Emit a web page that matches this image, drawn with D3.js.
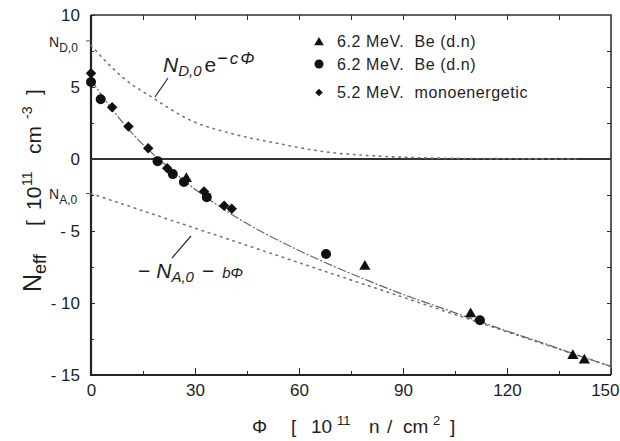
<!DOCTYPE html>
<html>
<head>
<meta charset="utf-8">
<script src="https://cdn.jsdelivr.net/npm/d3@7"></script>
<style>
  body { margin: 0; background: #fff; }
  svg { display: block; }
  text { font-family: "Liberation Sans", Arial, Helvetica, sans-serif; fill: #1e1e1e; }
  .axis path, .axis line { stroke: #2a2a2a; }
  .axis text { font-size: 17px; }
</style>
</head>
<body>
<script>
"use strict";

// measured points, fluence in 1e11 n/cm2, Neff in 1e11 cm-3
var triX = [27.5, 79, 109.5, 139, 142.3];
var triY = [-1.3, -7.4, -10.7, -13.6, -13.9];
var circX = [0, 2.8, 19.2, 23.6, 26.8, 33.4, 67.8, 112.2];
var circY = [5.35, 4.15, -0.15, -1.05, -1.6, -2.65, -6.6, -11.2];
var diaX = [0, 6.1, 10.8, 16.5, 22, 32.6, 38.4, 40.6];
var diaY = [5.95, 3.6, 2.25, 0.75, -0.65, -2.25, -3.25, -3.45];

// curves
var donorX = [0, 5, 10, 17.5, 28.6, 40, 53.5, 66, 83, 100, 120, 140];
var donorY = [7.9, 6.6, 5.5, 4.3, 2.7, 1.8, 1.1, 0.55, 0.2, 0.06, 0.02, 0];
var accX = [0, 150];
var accY = [-2.4, -14.4];
var fitX = [0, 5, 10, 15, 20, 30, 40, 50, 60, 70, 80, 90, 100, 110, 120, 130, 140, 150];
var fitY = [5.5, 3.8, 2.3, 1.0, -0.1, -2.1, -3.75, -5.15, -6.35, -7.45, -8.45, -9.4, -10.25, -11.1, -11.95, -12.75, -13.6, -14.4];

var xTicks = [0, 30, 60, 90, 120, 150];
var yTicks = [10, 5, 0, -5, -10, -15];
var yTickLabels = ["10", "5", "0", "- 5", "- 10", "- 15"];
var legendLabels = ["6.2 MeV.  Be (d.n)", "6.2 MeV.  Be (d.n)", "5.2 MeV.  monoenergetic"];
var ND0 = 8.2, NA0 = -2.4;

var W = 620, H = 441;
var mLeft = 91, mRight = 611, mTop = 15, mBottom = 375;

var svg = d3.select("body").append("svg").attr("width", W).attr("height", H);
svg.append("rect").attr("width", W).attr("height", H).attr("fill", "#fff");

var x = d3.scaleLinear().domain([0, 150]).range([mLeft, mRight]);
var y = d3.scaleLinear().domain([-15, 10]).range([mBottom, mTop]);

// axes, inward ticks
var gx = svg.append("g").attr("class", "axis").attr("transform", "translate(0," + mBottom + ")")
    .call(d3.axisBottom(x).tickValues(xTicks).tickSize(-7).tickPadding(9).tickFormat(d3.format("d")));
gx.selectAll(".tick text").filter(function(d){ return d === 150; })
    .attr("text-anchor", "end").attr("x", 8);
var gxm = svg.append("g").attr("class", "axis").attr("transform", "translate(0," + mBottom + ")")
    .call(d3.axisBottom(x).tickValues([15, 45, 75, 105, 135]).tickSize(-4).tickFormat(""));
var gxt = svg.append("g").attr("class", "axis").attr("transform", "translate(0," + mTop + ")")
    .call(d3.axisTop(x).tickValues([15, 30, 45, 60, 75, 90, 105, 120, 135]).tickSize(-5).tickFormat(""));
var gy = svg.append("g").attr("class", "axis").attr("transform", "translate(" + mLeft + ",0)")
    .call(d3.axisLeft(y).tickValues(yTicks).tickSize(-4).tickPadding(11)
      .tickFormat(function(d, i){ return yTickLabels[i]; }));
var gym = svg.append("g").attr("class", "axis").attr("transform", "translate(" + mLeft + ",0)")
    .call(d3.axisLeft(y).tickValues([7.5, 2.5, -2.5, -7.5, -12.5]).tickSize(-3).tickFormat(""));
var gyr = svg.append("g").attr("class", "axis").attr("transform", "translate(" + mRight + ",0)")
    .call(d3.axisRight(y).tickValues([7.5, 5, 2.5, -2.5, -5, -7.5, -10, -12.5]).tickSize(-4).tickFormat(""));

[gx, gxm, gxt, gy, gym, gyr].forEach(function(g){ g.select(".domain").remove(); });

// frame
svg.append("path")
  .attr("d", "M" + mLeft + "," + mTop + "H" + mRight + "V" + mBottom)
  .attr("fill", "none").attr("stroke", "#333").attr("stroke-width", 1.6);
svg.append("path")
  .attr("d", "M" + mLeft + "," + mTop + "V" + mBottom + "H" + mRight)
  .attr("fill", "none").attr("stroke", "#222").attr("stroke-width", 2.2);

// zero line
svg.append("line")
  .attr("x1", mLeft).attr("x2", mRight).attr("y1", y(0)).attr("y2", y(0))
  .attr("stroke", "#333").attr("stroke-width", 2);

// N_D,0 and N_A,0 markers on the axis
svg.append("line").attr("x1", mLeft - 5).attr("x2", mLeft).attr("y1", y(ND0)).attr("y2", y(ND0))
  .attr("stroke", "#555").attr("stroke-width", 1);
svg.append("line").attr("x1", mLeft - 5).attr("x2", mLeft).attr("y1", y(NA0)).attr("y2", y(NA0))
  .attr("stroke", "#555").attr("stroke-width", 1);

var sideLab = svg.append("text").attr("x", 49).attr("y", y(ND0) + 6).style("font-size", "14px");
sideLab.append("tspan").text("N");
sideLab.append("tspan").attr("dy", 5).style("font-size", "12px").text("D,0");
var sideLab2 = svg.append("text").attr("x", 49).attr("y", y(NA0) + 5).style("font-size", "14px");
sideLab2.append("tspan").text("N");
sideLab2.append("tspan").attr("dy", 5).style("font-size", "12px").text("A,0");

// curves
var line = d3.line().x(function(d){ return x(d[0]); }).y(function(d){ return y(d[1]); });
var curve = d3.line().curve(d3.curveMonotoneX).x(function(d){ return x(d[0]); }).y(function(d){ return y(d[1]); });

svg.append("path").datum(d3.zip(donorX, donorY)).attr("d", curve)
  .attr("fill", "none").attr("stroke", "#777").attr("stroke-width", 1.6)
  .attr("stroke-dasharray", "1.5,5").attr("stroke-linecap", "round");
svg.append("path").datum(d3.zip(accX, accY)).attr("d", line)
  .attr("fill", "none").attr("stroke", "#777").attr("stroke-width", 1.6)
  .attr("stroke-dasharray", "1.5,5").attr("stroke-linecap", "round");
svg.append("path").datum(d3.zip(fitX, fitY)).attr("d", curve)
  .attr("fill", "none").attr("stroke", "#666").attr("stroke-width", 1.2)
  .attr("stroke-dasharray", "9,2,2,2");

// markers
var tri = d3.symbol().type(d3.symbolTriangle).size(55);
var dia = d3.symbol().type(d3.symbolSquare).size(55);

svg.append("g").selectAll("circle").data(d3.zip(circX, circY)).join("circle")
  .attr("cx", function(d){ return x(d[0]); }).attr("cy", function(d){ return y(d[1]); })
  .attr("r", 5).attr("fill", "#111");
svg.append("g").selectAll("path").data(d3.zip(diaX, diaY)).join("path")
  .attr("d", dia).attr("fill", "#111")
  .attr("transform", function(d){ return "translate(" + x(d[0]) + "," + y(d[1]) + ") rotate(45)"; });
svg.append("g").selectAll("path").data(d3.zip(triX, triY)).join("path")
  .attr("d", tri).attr("fill", "#111")
  .attr("transform", function(d){ return "translate(" + x(d[0]) + "," + (y(d[1]) + 1) + ")"; });

// legend
var legY = [41.5, 64, 92.5];
var lg = svg.append("g");
lg.append("path").attr("d", d3.symbol().type(d3.symbolTriangle).size(40))
  .attr("transform", "translate(319," + (legY[0] + 1) + ")").attr("fill", "#111");
lg.append("circle").attr("cx", 319).attr("cy", legY[1]).attr("r", 4.5).attr("fill", "#111");
lg.append("path").attr("d", d3.symbol().type(d3.symbolSquare).size(28))
  .attr("transform", "translate(319," + legY[2] + ") rotate(45)").attr("fill", "#111");
lg.selectAll("text").data(legendLabels).join("text")
  .attr("x", 337).attr("y", function(d, i){ return legY[i] + 5.5; })
  .style("font-size", "16px").style("letter-spacing", "0.6px").style("white-space", "pre")
  .attr("xml:space", "preserve")
  .text(function(d){ return d; });

// annotations
var a1 = svg.append("text").attr("x", 163).attr("y", 72).style("font-size", "21px");
a1.append("tspan").style("font-style", "italic").text("N");
a1.append("tspan").attr("dy", 4).style("font-size", "15px").style("font-style", "italic").text("D,0");
a1.append("tspan").attr("dy", -4).attr("dx", 3).style("font-size", "21px").text("e");
a1.append("tspan").attr("dy", -8).attr("dx", 1).style("font-size", "18px").text("\u2212");
a1.append("tspan").attr("dx", 2).style("font-size", "17px").style("font-style", "italic").text("c");
a1.append("tspan").attr("dx", 2).style("font-size", "17px").style("font-style", "italic").text("\u03A6");
svg.append("line").attr("x1", 168).attr("y1", 78).attr("x2", 155).attr("y2", 97)
  .attr("stroke", "#333").attr("stroke-width", 1.3);

var a2 = svg.append("text").attr("x", 138).attr("y", 278).style("font-size", "21px");
a2.append("tspan").text("\u2212");
a2.append("tspan").attr("dx", 6).style("font-style", "italic").text("N");
a2.append("tspan").attr("dy", 4).style("font-size", "15px").style("font-style", "italic").text("A,0");
a2.append("tspan").attr("dy", -4).attr("dx", 8).text("\u2212");
a2.append("tspan").attr("dx", 8).style("font-size", "15px").style("font-style", "italic").text("b\u03A6");
svg.append("line").attr("x1", 191).attr("y1", 236).attr("x2", 172).attr("y2", 258)
  .attr("stroke", "#333").attr("stroke-width", 1.3);

// axis titles
var yt = svg.append("text").attr("transform", "translate(41,292) rotate(-90)");
yt.append("tspan").attr("x", 0).style("font-size", "25px").text("N");
yt.append("tspan").attr("dy", 5).style("font-size", "18px").text("eff");
yt.append("tspan").attr("x", 66).attr("dy", -5).style("font-size", "21px").text("[");
yt.append("tspan").attr("x", 82).style("font-size", "21px").text("10");
yt.append("tspan").attr("x", 106).attr("dy", -9).style("font-size", "14px").text("11");
yt.append("tspan").attr("x", 138).attr("dy", 9).style("font-size", "21px").text("cm");
yt.append("tspan").attr("x", 173).attr("dy", -9).style("font-size", "14px").text("-3");
yt.append("tspan").attr("x", 197).attr("dy", 9).style("font-size", "21px").text("]");

var xt = svg.append("text").attr("y", 433).style("font-size", "19px");
xt.append("tspan").attr("x", 252).text("\u03A6");
xt.append("tspan").attr("x", 291).text("[");
xt.append("tspan").attr("x", 311).text("10");
xt.append("tspan").attr("x", 337).attr("dy", -8).style("font-size", "13px").text("11");
xt.append("tspan").attr("x", 369).attr("dy", 8).text("n");
xt.append("tspan").attr("x", 387).text("/");
xt.append("tspan").attr("x", 403).text("cm");
xt.append("tspan").attr("x", 433).attr("dy", -8).style("font-size", "13px").text("2");
xt.append("tspan").attr("x", 450).attr("dy", 8).text("]");
</script>
</body>
</html>
